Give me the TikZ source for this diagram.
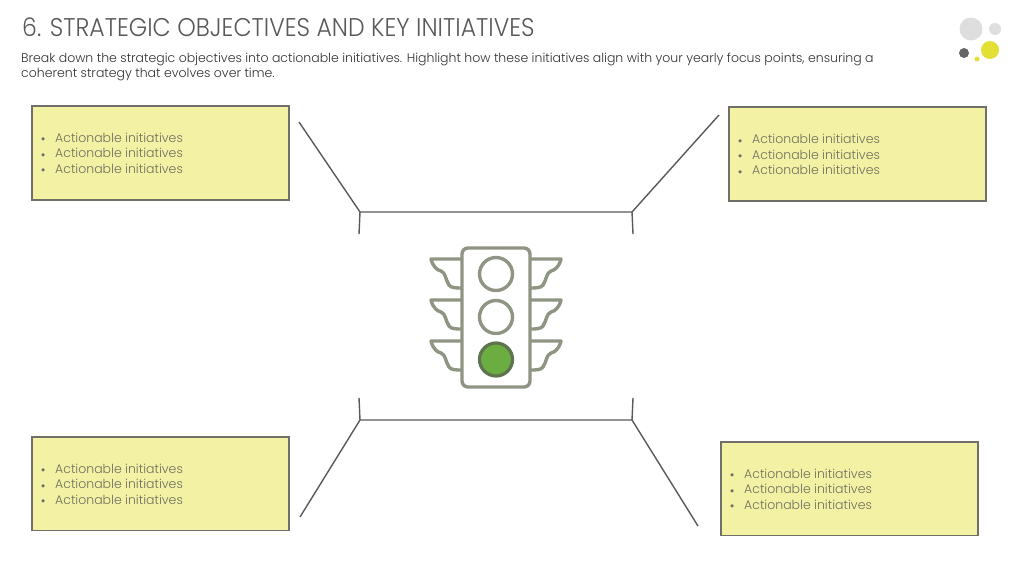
\documentclass[tikz,border=0pt]{standalone}
\usepackage{fontspec}
\setmainfont{Poppins Light}[BoldFont=Poppins]
\newfontfamily\titlefont{Poppins Light}[FakeStretch=0.92]
\newfontfamily\dotfont{Poppins}
\definecolor{boxfill}{HTML}{F3F1A3}
\definecolor{boxline}{HTML}{707068}
\definecolor{boxtext}{HTML}{6F6F62}
\definecolor{conn}{HTML}{5A5A5A}
\definecolor{lamp}{HTML}{8E9583}
\definecolor{lampfill}{HTML}{6BAD40}
\definecolor{lampedge}{HTML}{5F7350}
\definecolor{dotyellow}{HTML}{E3E035}
\tikzset{
  x=1pt,y=-1pt,
  initbox/.style={draw=boxline,line width=1.8pt,fill=boxfill,minimum width=256.5pt,minimum height=93.5pt,anchor=north west,inner sep=0pt,outer sep=0pt},
  inittext/.style={anchor=base west,text=boxtext,font=\fontsize{12.5}{14}\selectfont,inner sep=0pt},
  initdot/.style={anchor=base west,text=boxtext,font=\dotfont\fontsize{12.5}{14}\selectfont,inner sep=0pt},
  connline/.style={draw=conn,line width=1.4pt,line join=round},
  lampline/.style={draw=lamp,line width=3.4pt,line join=round},
  wingpath/.pic={\draw[lampline] (0,0) -- (-31,0) .. controls (-29,8) and (-25,11) .. (-21,12) .. controls (-16,14) and (-17,20) .. (-13,26) .. controls (-11,29) and (-6,29) .. (0,29);}
}
\newcommand{\initlines}[3]{%
  \node[initdot] at (#2-0.5,#3+5.6) {\textbullet};
  \node[inittext] at (#1,#3+4.2) {Actionable initiatives};
  \node[initdot] at (#2-0.5,#3+21.1) {\textbullet};
  \node[inittext] at (#1,#3+19.7) {Actionable initiatives};
  \node[initdot] at (#2-0.5,#3+36.6) {\textbullet};
  \node[inittext] at (#1,#3+35.2) {Actionable initiatives};
}
\begin{document}
\begin{tikzpicture}
\useasboundingbox[fill=white] (0,0) rectangle (1024,576);
\node[anchor=base west,inner sep=0pt,text=black!65,font=\titlefont\fontsize{25.6}{28}\selectfont] (title) at (22,36.5) {6. STRATEGIC OBJECTIVES AND KEY INITIATIVES};
\node[anchor=base west,inner sep=0pt,text=black!80,font=\fontsize{12.5}{14}\selectfont] (sub1) at (21,62) {Break down the strategic objectives into actionable initiatives. Highlight how these initiatives align with your yearly focus points, ensuring a};
\node[anchor=base west,inner sep=0pt,text=black!80,font=\fontsize{12.5}{14}\selectfont] (sub2) at (21,77) {coherent strategy that evolves over time.};
% logo dots
\fill[black!13] (971,29) circle (11.5);
\fill[black!13] (995,29) circle (6);
\fill[black!60] (964,53) circle (5);
\fill[dotyellow] (990,50) circle (9);
\fill[dotyellow] (977,59) circle (2.5);
% boxes
\node[initbox] (tl) at (32.2,106.2) {};
\node[initbox] (tr) at (729.2,107.2) {};
\node[initbox] (bl) at (32.2,437) {};
\node[initbox] (br) at (721.2,442) {};
\initlines{55}{41}{138}
\initlines{752}{738}{139.5}
\initlines{55}{41}{469}
\initlines{744}{730}{474}
% connectors
\coordinate (a1) at (299,122); \coordinate (a2) at (360,212); \coordinate (a3) at (632,212); \coordinate (a4) at (719,115);
\coordinate (a5) at (359,234); \coordinate (a6) at (633,234);
\coordinate (b1) at (300,517); \coordinate (b2) at (360,420); \coordinate (b3) at (632,420); \coordinate (b4) at (698,526);
\coordinate (b5) at (359,398); \coordinate (b6) at (633,398);
\draw[connline] (a1) -- (a2) -- (a3) -- (a4);
\draw[connline] (a2) -- (a5);
\draw[connline] (a3) -- (a6);
\draw[connline] (b1) -- (b2) -- (b3) -- (b4);
\draw[connline] (b2) -- (b5);
\draw[connline] (b3) -- (b6);
% traffic light
\foreach \yy in {259,300,341}{
  \pic at (462,\yy) {wingpath};
  \pic[xscale=-1] at (530,\yy) {wingpath};
}
\draw[lampline,rounded corners=6pt,fill=white] (462,248) rectangle (530,387);
\draw[lampline] (496,274) circle (16.5);
\draw[lampline] (496,317) circle (16.5);
\draw[draw=lampedge,fill=lampfill,line width=3.2pt] (496,359.5) circle (16.5);
\end{tikzpicture}
\end{document}
